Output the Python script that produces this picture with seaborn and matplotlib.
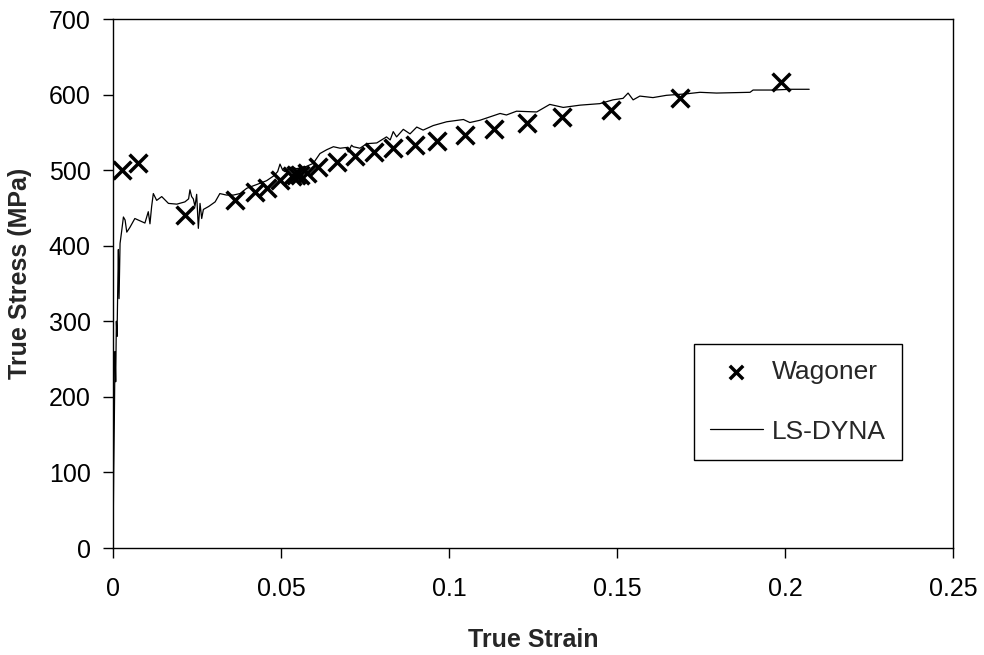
import matplotlib
matplotlib.use("Agg")
import matplotlib.pyplot as plt
import seaborn as sns
import pandas as pd

# Experimental points (Wagoner)
wagoner_strain = [0.0026, 0.0075, 0.0214, 0.0363, 0.0423, 0.0457, 0.0497, 0.0532,
                  0.0545, 0.0557, 0.0576, 0.0611, 0.0666, 0.0720, 0.0778, 0.0834,
                  0.0899, 0.0963, 0.1048, 0.1134, 0.1233, 0.1337, 0.1482, 0.1688, 0.1988]
wagoner_stress = [500, 509, 440, 460, 471, 476, 487, 492,
                  494, 493, 496, 504, 511, 519, 524, 529,
                  533, 538, 547, 555, 562, 570, 580, 596, 616]

# Simulated curve (LS-DYNA)
dyna_strain = [0.0, 0.0002, 0.0004, 0.0006, 0.0008, 0.0010, 0.0012, 0.0014, 0.0016, 0.0018,
               0.0021, 0.0026, 0.0031, 0.0036, 0.0041, 0.0050, 0.0065, 0.0080, 0.0095, 0.0105,
               0.0110, 0.0115, 0.0120, 0.0130, 0.0145, 0.0165, 0.0190, 0.0214, 0.0225, 0.0229,
               0.0234, 0.0239, 0.0244, 0.0249, 0.0254, 0.0259, 0.0264, 0.0269, 0.0285, 0.0304,
               0.0318, 0.0338, 0.0358, 0.0378, 0.0398, 0.0428, 0.0457, 0.0477, 0.0490, 0.0497,
               0.0505, 0.0512, 0.0530, 0.0546, 0.0560, 0.0576, 0.0596, 0.0616, 0.0636, 0.0656,
               0.0676, 0.0695, 0.0700, 0.0710, 0.0715, 0.0735, 0.0755, 0.0785, 0.0814, 0.0825,
               0.0834, 0.0844, 0.0864, 0.0884, 0.0904, 0.0923, 0.0953, 0.0993, 0.1043, 0.1062,
               0.1092, 0.1152, 0.1171, 0.1201, 0.1261, 0.1300, 0.1340, 0.1390, 0.1449, 0.1488,
               0.1518, 0.1533, 0.1548, 0.1568, 0.1607, 0.1647, 0.1707, 0.1747, 0.1796, 0.1896,
               0.1905, 0.1965, 0.2015, 0.2072]
dyna_stress = [0, 100, 170, 260, 220, 300, 280, 340, 395, 330,
               403, 420, 438, 434, 418, 424, 436, 433, 430, 445,
               429, 452, 469, 460, 465, 456, 455, 458, 462, 474,
               465, 462, 452, 468, 423, 456, 436, 448, 452, 458,
               469, 467, 467, 469, 476, 481, 486, 492, 498, 508,
               500, 498, 504, 502, 503, 505, 509, 522, 527, 531,
               529, 530, 524, 533, 531, 529, 535, 536, 544, 540,
               551, 544, 554, 548, 557, 553, 559, 564, 567, 563,
               566, 575, 573, 578, 577, 587, 583, 586, 588, 593,
               595, 602, 593, 598, 596, 599, 601, 603, 602, 603,
               606, 606, 607, 607]

x_ticks = [0, 0.05, 0.1, 0.15, 0.2, 0.25]
x_tick_labels = ["0", "0.05", "0.1", "0.15", "0.2", "0.25"]
y_ticks = [0, 100, 200, 300, 400, 500, 600, 700]

sns.set_style("ticks")
plt.rcParams["font.family"] = ["Liberation Sans", "DejaVu Sans"]

fig = plt.figure(figsize=(9.84, 6.55), dpi=100)
ax = fig.add_axes([113 / 984, 107 / 655, 840 / 984, 529 / 655])

wag = pd.DataFrame({"strain": wagoner_strain, "stress": wagoner_stress})
dyna = pd.DataFrame({"strain": dyna_strain, "stress": dyna_stress})

sns.scatterplot(data=wag, x="strain", y="stress", marker="x", color="black",
                s=165, linewidth=2.5, label="Wagoner", ax=ax, zorder=3)
sns.lineplot(data=dyna, x="strain", y="stress", sort=False, estimator=None,
             color="black", linewidth=0.9, label="LS-DYNA", ax=ax, zorder=2)

ax.set_xlim(0, 0.25)
ax.set_ylim(0, 700)
ax.set_xticks(x_ticks)
ax.set_xticklabels(x_tick_labels)
ax.set_yticks(y_ticks)
ax.tick_params(axis="both", direction="out", length=7, width=1, colors="black",
               labelsize=18)
ax.tick_params(axis="x", pad=14)
ax.tick_params(axis="y", pad=9)

for side in ["left", "right", "top", "bottom"]:
    ax.spines[side].set_visible(True)
    ax.spines[side].set_color("black")
    ax.spines[side].set_linewidth(1.0)

ax.set_xlabel("True Strain", fontsize=18, fontweight="bold", labelpad=19)
ax.set_ylabel("True Stress (MPa)", fontsize=18, fontweight="bold")
ax.yaxis.set_label_coords(-0.096, 0.52)

handles, labels = ax.get_legend_handles_labels()
leg = ax.legend(handles, labels, loc="upper left",
                bbox_to_anchor=((694 - 113) / 840, (548 - 344) / 529),
                borderaxespad=0, fontsize=19, labelspacing=1.36, borderpad=0.6,
                handlelength=2.0, handletextpad=0.35, markerscale=0.75,
                fancybox=False, frameon=True, framealpha=1, edgecolor="black")
leg.get_frame().set_linewidth(1.0)

fig.savefig("out.png", dpi=100, facecolor="white")
